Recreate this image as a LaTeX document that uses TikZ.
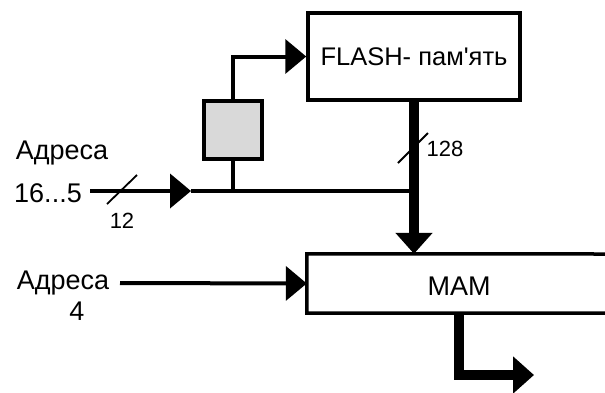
\documentclass[tikz,border=0pt]{standalone}
\usepackage{fontspec}
\setmainfont{Liberation Sans}
\usetikzlibrary{arrows.meta}
\tikzset{
  boxline/.style={line width=3.5pt},
  wire/.style={line width=4pt},
  busline/.style={line width=10pt},
  tipthin/.style={-{Triangle[length=21pt,width=34pt]}},
  tipbus/.style={-{Triangle[length=21pt,width=36pt]}},
  lbl/.style={inner sep=0pt,font=\fontsize{27}{30}\selectfont},
  smalllbl/.style={inner sep=0pt,font=\fontsize{22}{24}\selectfont},
  slash/.style={line width=1.8pt}
}
\begin{document}
\begin{tikzpicture}[x=1pt,y=-1pt]
\useasboundingbox (0,0) rectangle (605,392);
% FLASH memory
\node[boxline,draw,minimum width=212pt,minimum height=87pt,inner sep=0pt,
      font=\fontsize{25.5}{28}\selectfont] (flash) at (414,56.5) {FLASH- пам\textquotesingle ять};
% register
\node[boxline,draw,fill=gray!30,minimum width=58pt,minimum height=58pt,inner sep=0pt] (reg) at (233,130) {};
% MAM
\node[minimum width=304pt,minimum height=59pt,inner sep=0pt] (mam) at (459,283.5) {};
\node[inner sep=0pt,font=\fontsize{27}{29}\selectfont] (mamtext) at (459,286) {MAM};
\draw[boxline] (606,254) -- (mam.north west) -- (mam.south west) -- (606,313);
% labels
\node[lbl] (a1) at (62,153) {Адреса};
\node[lbl] (n165) at (48,193) {16...5};
\node[lbl] (a2) at (63,283) {Адреса};
\node[lbl] (n4) at (77,311) {4};
\node[smalllbl] (n12) at (122,221) {12};
\node[smalllbl] (n128) at (445,149) {128};
% coordinates
\coordinate (in1) at (90,191);
\coordinate (ar1) at (191,191);
\coordinate (j1) at (413,191);
\coordinate (in2) at (120,283);
\coordinate (out) at (534,375);
% address bus 16..5
\draw[wire,tipthin] (in1) -- (ar1);
\draw[wire] (ar1) -- (j1);
\draw[slash] (107,204) -- (137,175);
% register connections
\draw[wire] (reg.south) -- (reg.south |- j1);
\draw[wire,tipthin] (reg.north) |- (flash.west);
% 128 bus
\draw[busline,tipbus] (flash.south) -- (flash.south |- mam.north);
\draw[slash] (398,163) -- (428,133);
% address 4
\draw[wire,tipthin] (in2) -- (mam.west);
% output
\draw[busline,tipbus] (mam.south) |- (out);
\end{tikzpicture}
\end{document}
